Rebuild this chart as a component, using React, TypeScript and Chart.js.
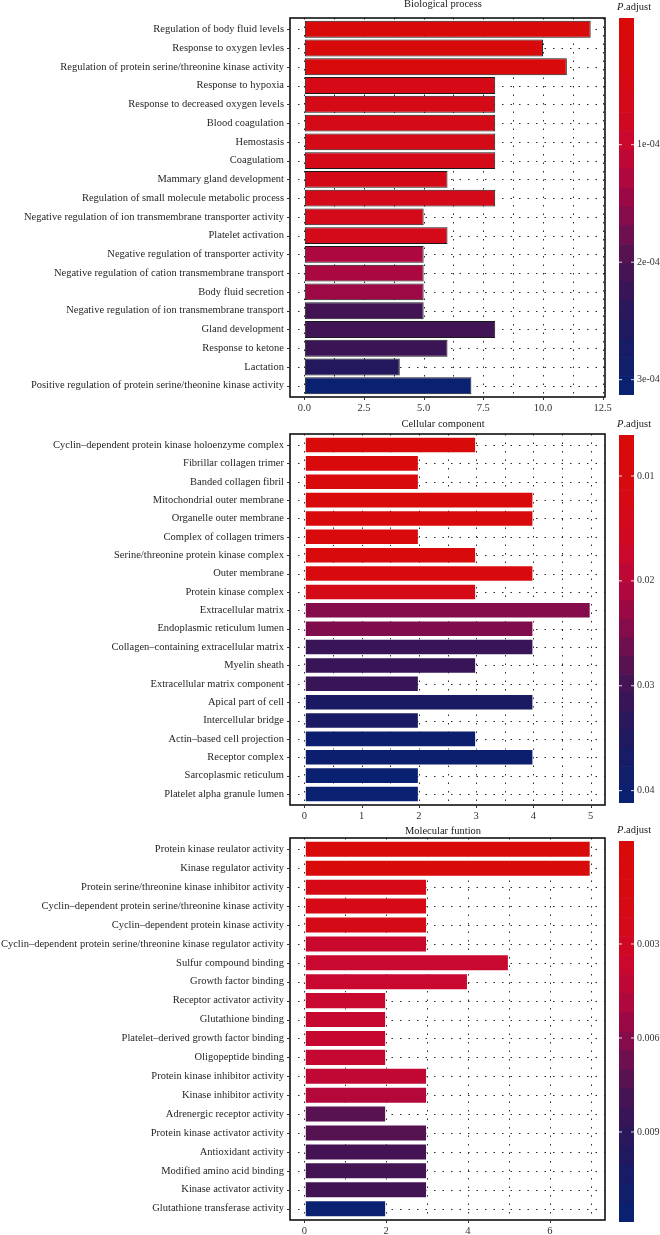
import React, { useEffect, useRef } from 'react';
import { Chart, registerables } from 'chart.js';

Chart.register(...registerables);

// ---------------- Biological process ----------------
const bpTerms = [
  'Regulation of body fluid levels',
  'Response to oxygen levles',
  'Regulation of protein serine/threonine kinase activity',
  'Response to hypoxia',
  'Response to decreased oxygen levels',
  'Blood coagulation',
  'Hemostasis',
  'Coagulatiom',
  'Mammary gland development',
  'Regulation of small molecule metabolic process',
  'Negative regulation of ion transmembrane transporter activity',
  'Platelet activation',
  'Negative regulation of transporter activity',
  'Negative regulation of cation transmembrane transport',
  'Body fluid secretion',
  'Negative regulation of ion transmembrane transport',
  'Gland development',
  'Response to ketone',
  'Lactation',
  'Positive regulation of protein serine/theonine kinase activity',
];
const bpCounts = [12, 10, 11, 8, 8, 8, 8, 8, 6, 8, 5, 6, 5, 5, 5, 5, 8, 6, 4, 7];
const bpPadj = [
  2e-7, 4e-6, 6e-6, 5.2e-5, 5.3e-5, 5.4e-5, 5.5e-5, 5.6e-5, 5.7e-5, 5.8e-5,
  6.0e-5, 6.1e-5, 1.3e-4, 1.32e-4, 1.43e-4, 2.12e-4, 2.13e-4, 2.2e-4, 2.53e-4, 3.05e-4,
];
const bpMajor = [0, 2.5, 5, 7.5, 10, 12.5];
const bpMajorLabels = ['0.0', '2.5', '5.0', '7.5', '10.0', '12.5'];
const bpMinor = [1.25, 3.75, 6.25, 8.75, 11.25];
const bpLegendTicks = [1e-4, 2e-4, 3e-4];
const bpLegendLabels = ['1e-04', '2e-04', '3e-04'];

// ---------------- Cellular component ----------------
const ccTerms = [
  'Cyclin–dependent protein kinase holoenzyme complex',
  'Fibrillar collagen trimer',
  'Banded collagen fibril',
  'Mitochondrial outer membrane',
  'Organelle outer membrane',
  'Complex of collagen trimers',
  'Serine/threonine protein kinase complex',
  'Outer membrane',
  'Protein kinase complex',
  'Extracellular matrix',
  'Endoplasmic reticulum lumen',
  'Collagen–containing extracellular matrix',
  'Myelin sheath',
  'Extracellular matrix component',
  'Apical part of cell',
  'Intercellular bridge',
  'Actin–based cell projection',
  'Receptor complex',
  'Sarcoplasmic reticulum',
  'Platelet alpha granule lumen',
];
const ccCounts = [3, 2, 2, 4, 4, 2, 3, 4, 3, 5, 4, 4, 3, 2, 4, 2, 3, 4, 2, 2];
const ccPadj = [
  0.00697, 0.0075, 0.0076, 0.0078, 0.0079, 0.0082, 0.0085, 0.0088, 0.013, 0.0246,
  0.025, 0.0313, 0.0314, 0.0316, 0.0363, 0.0364, 0.0397, 0.0399, 0.0402, 0.0403,
];
const ccMajor = [0, 1, 2, 3, 4, 5];
const ccMajorLabels = ['0', '1', '2', '3', '4', '5'];
const ccMinor = [0.5, 1.5, 2.5, 3.5, 4.5];
const ccLegendTicks = [0.01, 0.02, 0.03, 0.04];
const ccLegendLabels = ['0.01', '0.02', '0.03', '0.04'];

// ---------------- Molecular function ----------------
const mfTerms = [
  'Protein kinase reulator activity',
  'Kinase regulator activity',
  'Protein serine/threonine kinase inhibitor activity',
  'Cyclin–dependent protein serine/threonine kinase activity',
  'Cyclin–dependent protein kinase activity',
  'Cyclin–dependent protein serine/threonine kinase regulator activity',
  'Sulfur compound binding',
  'Growth factor binding',
  'Receptor activator activity',
  'Glutathione binding',
  'Platelet–derived growth factor binding',
  'Oligopeptide binding',
  'Protein kinase inhibitor activity',
  'Kinase inhibitor activity',
  'Adrenergic receptor activity',
  'Protein kinase activator activity',
  'Antioxidant activity',
  'Modified amino acid binding',
  'Kinase activator activity',
  'Glutathione transferase activity',
];
const mfCounts = [7, 7, 3, 3, 3, 3, 5, 4, 2, 2, 2, 2, 3, 3, 2, 3, 3, 3, 3, 2];
const mfPadj = [
  0.000017, 0.00005, 0.002, 0.002, 0.0021, 0.0037, 0.0038, 0.0038, 0.0038, 0.0039,
  0.0039, 0.004, 0.0041, 0.0046, 0.0073, 0.0074, 0.0079, 0.008, 0.008, 0.01157,
];
const mfMajor = [0, 2, 4, 6];
const mfMajorLabels = ['0', '2', '4', '6'];
const mfMinor = [1, 3, 5, 7];
const mfLegendTicks = [0.003, 0.006, 0.009];
const mfLegendLabels = ['0.003', '0.006', '0.009'];

// ---------------- styling ----------------
const FONT = '"Liberation Serif", "DejaVu Serif", serif';
const GRAD: number[][] = [
  [0, 217, 10, 10],
  [0.12, 215, 10, 16],
  [0.25, 210, 9, 32],
  [0.33, 200, 8, 48],
  [0.42, 175, 8, 62],
  [0.5, 145, 10, 72],
  [0.58, 110, 15, 80],
  [0.66, 75, 19, 82],
  [0.75, 52, 21, 88],
  [0.85, 30, 25, 96],
  [1, 10, 32, 112],
];
function gradColor(t: number): string {
  const tt = Math.max(0, Math.min(1, t));
  for (let i = 1; i < GRAD.length; i++) {
    if (tt <= GRAD[i][0]) {
      const a = GRAD[i - 1], b = GRAD[i];
      const f = (tt - a[0]) / (b[0] - a[0]);
      const c = [1, 2, 3].map((k) => Math.round(a[k] + (b[k] - a[k]) * f));
      return `rgb(${c[0]},${c[1]},${c[2]})`;
    }
  }
  const l = GRAD[GRAD.length - 1];
  return `rgb(${l[1]},${l[2]},${l[3]})`;
}

type PanelCfg = {
  title: string;
  terms: string[];
  counts: number[];
  padj: number[];
  major: number[];
  majorLabels: string[];
  minor: number[];
  legendTicks: number[];
  legendLabels: string[];
  top: number;
  height: number;
  boxTop: number;
  boxBottom: number;
  cbTop: number;
  cbBottom: number;
  titleY: number;
  barBorder: string;
};

const BOX_LEFT = 290;
const BOX_RIGHT = 605;
const CB_LEFT = 619;
const CB_W = 15;
const NBIN = 20;

const panels: PanelCfg[] = [
  {
    title: 'Biological process', terms: bpTerms, counts: bpCounts, padj: bpPadj,
    major: bpMajor, majorLabels: bpMajorLabels, minor: bpMinor,
    legendTicks: bpLegendTicks, legendLabels: bpLegendLabels,
    top: 0, height: 417, boxTop: 18, boxBottom: 397, cbTop: 18, cbBottom: 395, titleY: 4,
    barBorder: '#1a1a1a',
  },
  {
    title: 'Cellular component', terms: ccTerms, counts: ccCounts, padj: ccPadj,
    major: ccMajor, majorLabels: ccMajorLabels, minor: ccMinor,
    legendTicks: ccLegendTicks, legendLabels: ccLegendLabels,
    top: 417, height: 405, boxTop: 434, boxBottom: 805, cbTop: 435, cbBottom: 803, titleY: 424,
    barBorder: 'rgba(255,255,255,0.55)',
  },
  {
    title: 'Molecular funtion', terms: mfTerms, counts: mfCounts, padj: mfPadj,
    major: mfMajor, majorLabels: mfMajorLabels, minor: mfMinor,
    legendTicks: mfLegendTicks, legendLabels: mfLegendLabels,
    top: 822, height: 413, boxTop: 838, boxBottom: 1220, cbTop: 841, cbBottom: 1222, titleY: 831,
    barBorder: 'rgba(255,255,255,0.55)',
  },
];

function Panel({ cfg }: { cfg: PanelCfg }) {
  const ref = useRef<HTMLCanvasElement | null>(null);
  useEffect(() => {
    if (!ref.current) return;
    const n = cfg.terms.length;
    const boxTop = cfg.boxTop - cfg.top;
    const boxBottom = cfg.boxBottom - cfg.top;
    const row = (boxBottom - boxTop) / (n + 0.2);
    const areaTop = boxTop + 0.1 * row;
    const areaBottom = boxBottom - 0.1 * row;
    const cbTop = cfg.cbTop - cfg.top;
    const cbBottom = cfg.cbBottom - cfg.top;
    const pmin = Math.min(...cfg.padj);
    const pmax = Math.max(...cfg.padj);
    const tOf = (p: number) => (p - pmin) / (pmax - pmin);
    const cmax = Math.max(...cfg.counts);
    const xMin = -0.05 * cmax;
    const xMax = cmax * 1.05;

    const decor = {
      id: 'decor',
      beforeDatasetsDraw(chart: any) {
        const ctx = chart.ctx;
        const xs = chart.scales.x;
        const ys = chart.scales.y;
        ctx.save();
        ctx.strokeStyle = '#2a2a2a';
        ctx.lineWidth = 1;
        ctx.setLineDash([1.5, 7]);
        for (const v of [...cfg.major, ...cfg.minor]) {
          const x = Math.round(xs.getPixelForValue(v)) + 0.5;
          ctx.beginPath();
          ctx.moveTo(x, boxTop);
          ctx.lineTo(x, boxBottom);
          ctx.stroke();
        }
        for (let i = 0; i < n; i++) {
          const y = Math.round(ys.getPixelForValue(i)) + 0.5;
          ctx.beginPath();
          ctx.moveTo(BOX_LEFT + 8, y);
          ctx.lineTo(BOX_RIGHT, y);
          ctx.stroke();
        }
        ctx.restore();
      },
      afterDraw(chart: any) {
        const ctx = chart.ctx;
        const xs = chart.scales.x;
        const ys = chart.scales.y;
        ctx.save();
        // panel border
        ctx.strokeStyle = '#111';
        ctx.lineWidth = 1.6;
        ctx.strokeRect(BOX_LEFT, boxTop, BOX_RIGHT - BOX_LEFT, boxBottom - boxTop);
        // ticks
        ctx.strokeStyle = '#333';
        ctx.lineWidth = 1;
        for (const v of cfg.major) {
          const x = Math.round(xs.getPixelForValue(v)) + 0.5;
          ctx.beginPath();
          ctx.moveTo(x, boxBottom);
          ctx.lineTo(x, boxBottom + 3);
          ctx.stroke();
        }
        for (let i = 0; i < n; i++) {
          const y = Math.round(ys.getPixelForValue(i)) + 0.5;
          ctx.beginPath();
          ctx.moveTo(BOX_LEFT - 3, y);
          ctx.lineTo(BOX_LEFT, y);
          ctx.stroke();
        }
        // title
        ctx.fillStyle = '#1a1a1a';
        ctx.font = `10.5px ${FONT}`;
        ctx.textAlign = 'center';
        ctx.textBaseline = 'middle';
        ctx.fillText(cfg.title, 443, cfg.titleY - cfg.top);
        // legend title
        ctx.textAlign = 'left';
        const ly = cbTop - 11;
        ctx.font = `italic 10.5px ${FONT}`;
        ctx.fillText('P', 617, ly);
        const pw = ctx.measureText('P').width;
        ctx.font = `10.5px ${FONT}`;
        ctx.fillText('.adjust', 617 + pw, ly);
        // colour bar
        const len = cbBottom - cbTop;
        for (let i = 0; i < NBIN; i++) {
          ctx.fillStyle = gradColor(i / (NBIN - 1));
          const y0 = cbTop + (i * len) / NBIN;
          ctx.fillRect(CB_LEFT, y0, CB_W, len / NBIN + (i < NBIN - 1 ? 0.6 : 0));
        }
        ctx.font = `10px ${FONT}`;
        ctx.fillStyle = '#333';
        cfg.legendTicks.forEach((v, k) => {
          const y = cbTop + ((0.5 + (NBIN - 1) * tOf(v)) / NBIN) * len;
          ctx.strokeStyle = 'rgba(255,255,255,0.85)';
          ctx.beginPath();
          ctx.moveTo(CB_LEFT, y);
          ctx.lineTo(CB_LEFT + 3, y);
          ctx.moveTo(CB_LEFT + CB_W - 3, y);
          ctx.lineTo(CB_LEFT + CB_W, y);
          ctx.stroke();
          ctx.fillText(cfg.legendLabels[k], 637, y);
        });
        ctx.restore();
      },
    };

    const chart = new Chart(ref.current, {
      type: 'bar',
      data: {
        labels: cfg.terms,
        datasets: [
          {
            data: cfg.counts,
            backgroundColor: cfg.padj.map((p) => gradColor(tOf(p))),
            borderColor: cfg.barBorder,
            borderWidth: 1,
            borderSkipped: false,
            barPercentage: 0.9,
            categoryPercentage: 1,
          },
        ],
      },
      options: {
        indexAxis: 'y',
        responsive: false,
        animation: false,
        devicePixelRatio: 1,
        layout: { padding: { top: areaTop, right: 660 - BOX_RIGHT, left: 0, bottom: 0 } },
        plugins: { legend: { display: false }, tooltip: { enabled: false }, title: { display: false } },
        scales: {
          x: {
            type: 'linear',
            min: xMin,
            max: xMax,
            grid: { display: true, drawOnChartArea: false, drawTicks: false },
            border: { display: false },
            afterBuildTicks: (scale: any) => {
              scale.ticks = cfg.major.map((v) => ({ value: v }));
            },
            afterFit: (scale: any) => {
              scale.height = cfg.height - areaBottom;
            },
            ticks: {
              autoSkip: false,
              maxRotation: 0,
              padding: 0.1 * row + 5,
              color: '#333',
              font: { family: FONT, size: 10.5 },
              callback: (v: any) => {
                const idx = cfg.major.indexOf(Number(v));
                return idx >= 0 ? cfg.majorLabels[idx] : '';
              },
            },
          },
          y: {
            type: 'category',
            offset: true,
            grid: { display: true, drawOnChartArea: false, drawTicks: false, offset: false },
            border: { display: false },
            afterFit: (scale: any) => {
              scale.width = BOX_LEFT;
            },
            ticks: {
              autoSkip: false,
              padding: 6,
              color: '#262626',
              font: { family: FONT, size: 10.5 },
            },
          },
        },
      },
      plugins: [decor],
    } as any);
    return () => chart.destroy();
  }, [cfg]);

  return (
    <canvas
      ref={ref}
      width={660}
      height={cfg.height}
      style={{ position: 'absolute', left: 0, top: cfg.top, width: 660, height: cfg.height, display: 'block' }}
    />
  );
}

export default function App() {
  return (
    <div style={{ position: 'absolute', left: 0, top: 0, width: 660, height: 1235, background: '#fff' }}>
      {panels.map((p) => (
        <Panel key={p.title} cfg={p} />
      ))}
    </div>
  );
}
